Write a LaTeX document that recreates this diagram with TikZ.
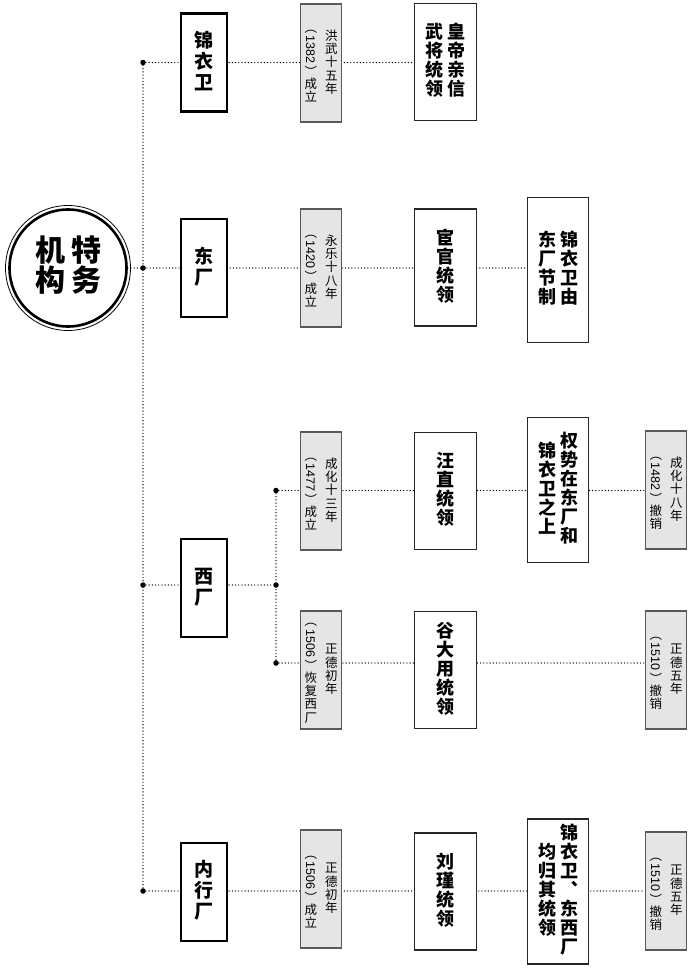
\documentclass[tikz,border=0pt]{standalone}
\usepackage{fontspec}
\usepackage{graphicx}
\usepackage{array}
\newfontfamily\cjk{Noto Sans CJK SC}
\newfontfamily\numfont{Liberation Sans}
\usetikzlibrary{backgrounds}
% one character per cell, every cell one line pitch high
\newdimen\vpitch
\newcolumntype{V}{>{\setbox0\hbox\bgroup}c<{\egroup\ht0=.78\vpitch\dp0=.22\vpitch\box0}}
\newcommand\vcol[1]{{\vpitch=\baselineskip\renewcommand\arraystretch{0}\begin{tabular}{@{}V@{}}#1\end{tabular}}}
\newcommand\yr[1]{\multicolumn{1}{@{}c@{}}{\rotatebox[origin=c]{-90}{（\,{\numfont #1}\,）}}}
\tikzset{
  catbox/.style={draw, line width=2.8pt, fill=white, inner sep=0pt,
    minimum width=46, minimum height=98, font=\cjk\bfseries\fontsize{19}{21}\selectfont},
  greybox/.style={draw=black!65, line width=1.2pt, fill=black!10, inner sep=0pt,
    minimum width=41, minimum height=118, font=\cjk\fontsize{12.5}{13.3}\selectfont},
  notebox/.style={draw=black!85, line width=1.2pt, fill=white, inner sep=0pt,
    minimum width=62, minimum height=117, font=\cjk\bfseries\fontsize{18}{19}\selectfont},
  tallbox/.style={notebox, minimum width=61, minimum height=145},
  joint/.style={circle, fill=black, inner sep=0pt, minimum size=5.5},
  dotline/.style={draw=black, line width=1.4pt, line cap=round, dash pattern=on 0pt off 3.2pt}
}
\begin{document}
\begin{tikzpicture}[x=1pt,y=-1pt]
\useasboundingbox (0,0) rectangle (700,969);
\node[circle, draw, line width=2.6pt, minimum size=117, inner sep=0pt,
  font=\cjk\bfseries\fontsize{30}{30}\selectfont] (org) at (68,268) {\vcol{机\\构}\hspace{6pt}\vcol{特\\务}};
\draw[line width=0.8pt] (org.center) circle[radius=62.5];

\node[joint] (ja) at (143,62.5) {};
\node[joint] (jb) at (143,268) {};
\node[joint] (jc) at (143,585) {};
\node[joint] (jd) at (143,891) {};
\node[joint] (je) at (276,490.5) {};
\node[joint] (jf) at (276,585) {};
\node[joint] (jg) at (276,663) {};

\node[catbox] (c1) at (204,62.5) {\vcol{锦\\衣\\卫}};
\node[catbox] (c2) at (204,268) {\vcol{东\\厂}};
\node[catbox] (c3) at (204,588) {\vcol{西\\厂}};
\node[catbox] (c4) at (204,892) {\vcol{内\\行\\厂}};

\node[greybox] (g1) at (321,63) {\vcol{\yr{1382}\\成\\立}\hspace{8pt}\vcol{洪\\武\\十\\五\\年}};
\node[greybox] (g2) at (321,268) {\vcol{\yr{1420}\\成\\立}\hspace{8pt}\vcol{永\\乐\\十\\八\\年}};
\node[greybox] (g3) at (321,491) {\vcol{\yr{1477}\\成\\立}\hspace{8pt}\vcol{成\\化\\十\\三\\年}};
\node[greybox] (g4) at (321,670) {\vcol{\yr{1506}\\恢\\复\\西\\厂}\hspace{8pt}\vcol{正\\德\\初\\年}};
\node[greybox] (g7) at (321,889) {\vcol{\yr{1506}\\成\\立}\hspace{8pt}\vcol{正\\德\\初\\年}};
\node[greybox] (g5) at (666,490) {\vcol{\yr{1482}\\撤\\销}\hspace{8pt}\vcol{成\\化\\十\\八\\年}};
\node[greybox] (g6) at (666,670) {\vcol{\yr{1510}\\撤\\销}\hspace{8pt}\vcol{正\\德\\五\\年}};
\node[greybox] (g8) at (666,891) {\vcol{\yr{1510}\\撤\\销}\hspace{8pt}\vcol{正\\德\\五\\年}};

\node[notebox] (w1) at (445.5,62) {\vcol{武\\将\\统\\领}\hspace{4pt}\vcol{皇\\帝\\亲\\信}};
\node[notebox] (w2) at (445.5,267.5) {\vcol{宦\\官\\统\\领}};
\node[notebox] (w3) at (445.5,491) {\vcol{汪\\直\\统\\领}};
\node[notebox] (w4) at (445.5,670) {\vcol{谷\\大\\用\\统\\领}};
\node[notebox] (w5) at (445.5,891.5) {\vcol{刘\\瑾\\统\\领}};
\node[tallbox] (t1) at (558,270) {\vcol{东\\厂\\节\\制}\hspace{4pt}\vcol{锦\\衣\\卫\\由}};
\node[tallbox] (t2) at (558,490) {\vcol{锦\\衣\\卫\\之\\上}\hspace{4pt}\vcol{权\\势\\在\\东\\厂\\和}};
\node[tallbox] (t3) at (558,891.5) {\vcol{均\\归\\其\\统\\领}\hspace{4pt}\vcol{锦\\衣\\卫\\︑\\东\\西\\厂}};

\begin{scope}[on background layer]
\draw[dotline] (ja) -- (jd);
\draw[dotline] (je) -- (jg);
\draw[dotline] (ja) -- (ja -| w1.west);
\draw[dotline] (org) -- (org -| t1.west);
\draw[dotline] (jc) -- (jf);
\draw[dotline] (je) -- (je -| g5.west);
\draw[dotline] (jg) -- (jg -| g6.west);
\draw[dotline] (jd) -- (jd -| g8.west);
\end{scope}
\end{tikzpicture}
\end{document}
